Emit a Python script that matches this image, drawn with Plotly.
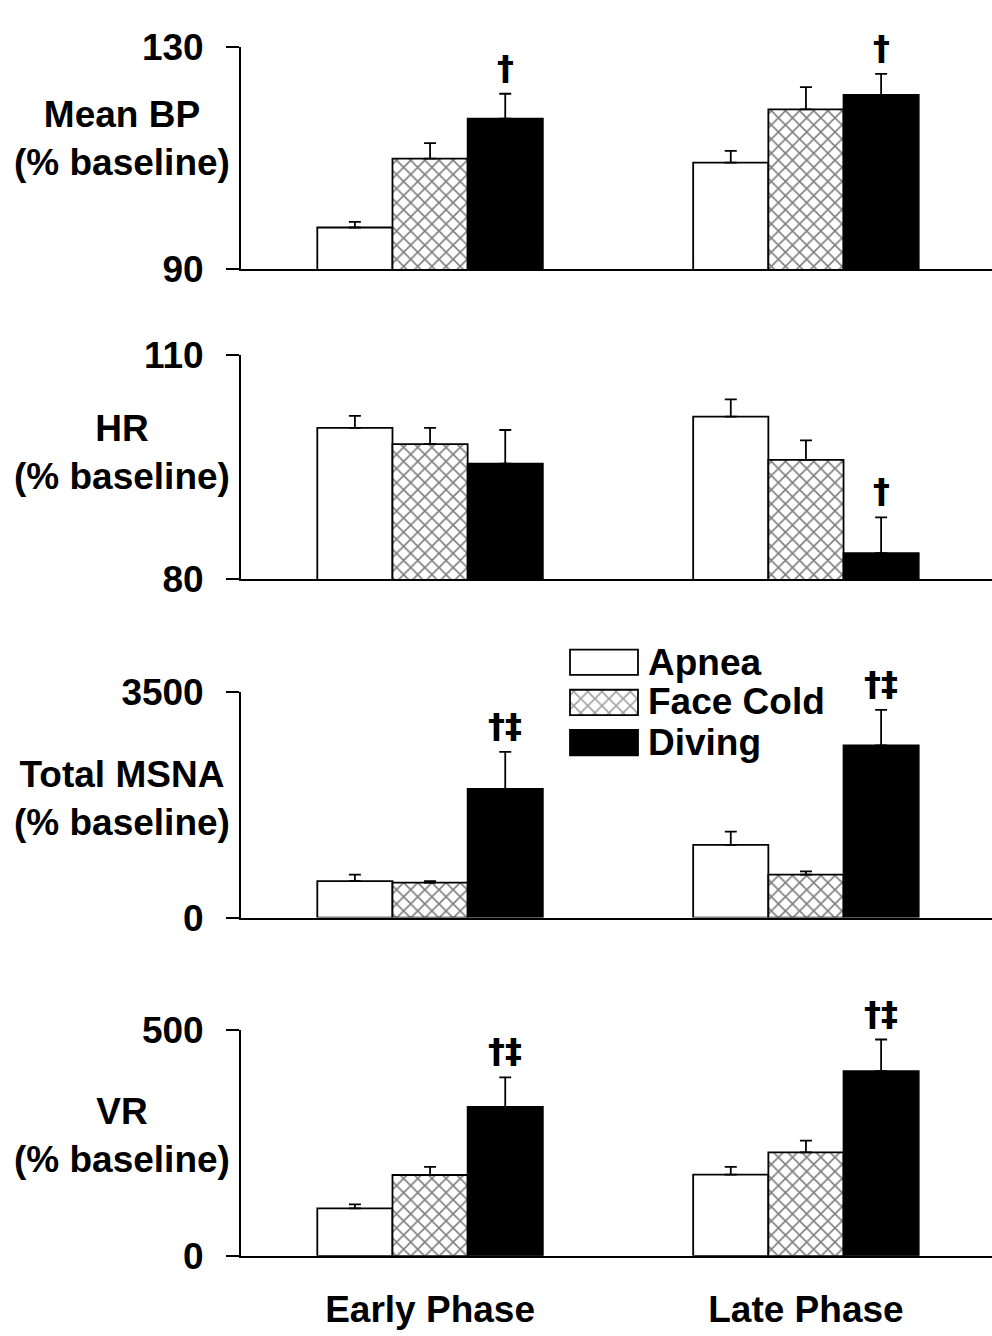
import plotly.graph_objects as go

# ---------------- data ----------------
phases = ["Early Phase", "Late Phase"]
series = ["Apnea", "Face Cold", "Diving"]

# rows: Apnea, Face Cold, Diving ; columns: Early, Late
bp_values = [[97.5, 109.2], [109.9, 118.8], [117.1, 121.4]]
bp_errors = [[1.0, 2.1], [2.8, 4.0], [4.5, 3.8]]
bp_sig = ["†", "†"]

hr_values = [[100.3, 101.8], [98.1, 96.0], [95.5, 83.5]]
hr_errors = [[1.6, 2.3], [2.2, 2.6], [4.5, 4.8]]
hr_sig = ["", "†"]

msna_values = [[566, 1127], [541, 666], [1993, 2669]]
msna_errors = [[100, 205], [25, 50], [575, 550]]
msna_sig = ["†‡", "†‡"]

vr_values = [[105, 180], [179, 229], [330, 409]]
vr_errors = [[9, 17], [18, 26], [65, 70]]
vr_sig = ["†‡", "†‡"]

bp_range = [90, 130]
hr_range = [80, 110]
msna_range = [0, 3500]
vr_range = [0, 500]

bp_title = "Mean BP<br>(% baseline)"
hr_title = "HR<br>(% baseline)"
msna_title = "Total MSNA<br>(% baseline)"
vr_title = "VR<br>(% baseline)"

# ---------------- styling / layout ----------------
W, H = 992, 1336
FONT = "Liberation Sans, Arial, sans-serif"
SYM_FONT = "DejaVu Sans, Liberation Sans, sans-serif"
FS = 37


def fx(p):
    return p / W


def fy(p):
    return 1 - p / H


panels = [
    dict(v=bp_values, e=bp_errors, sig=bp_sig, rng=bp_range, title=bp_title, top=28, bot=257, ty=122),
    dict(v=hr_values, e=hr_errors, sig=hr_sig, rng=hr_range, title=hr_title, top=346, bot=577, ty=446),
    dict(v=msna_values, e=msna_errors, sig=msna_sig, rng=msna_range, title=msna_title, top=693, bot=926, ty=803),
    dict(v=vr_values, e=vr_errors, sig=vr_sig, rng=vr_range, title=vr_title, top=1042, bot=1275, ty=1151),
]

fill_colors = ["white", "white", "black"]
patterns = ["", "x", ""]
PAT = dict(fgcolor="black", bgcolor="white", size=10, solidity=0.3)

BARGAP = 0.4
bar_w = (1 - BARGAP) / len(series)
xpos = list(range(len(phases)))

fig = go.Figure()
annotations = []
layout_axes = {}

for k, p in enumerate(panels):
    idx = "" if k == 0 else str(k + 1)
    xa, ya = "x" + idx, "y" + idx
    for s, name in enumerate(series):
        fig.add_trace(go.Bar(
            x=xpos, y=p["v"][s], name=name, xaxis=xa, yaxis=ya,
            marker=dict(
                color=fill_colors[s],
                line=dict(color="black", width=1.8),
                pattern=dict(shape=patterns[s], **PAT),
            ),
            error_y=dict(type="data", symmetric=False, array=p["e"][s],
                         arrayminus=[0] * len(phases), color="black",
                         thickness=1.8, width=6),
            showlegend=False,
        ))
    # significance marks above the Diving bars
    for i, mark in enumerate(p["sig"]):
        if mark:
            annotations.append(dict(
                x=xpos[i] + bar_w, y=p["v"][2][i] + p["e"][2][i],
                xref=xa, yref=ya, text=mark, showarrow=False,
                yanchor="middle", yshift=26,
                font=dict(family=SYM_FONT, size=34, color="black", weight="bold"),
            ))
    # axis title as annotation
    annotations.append(dict(
        x=fx(122), y=fy(p["ty"]), xref="paper", yref="paper",
        text=p["title"], showarrow=False, xanchor="center", yanchor="middle",
        font=dict(family=FONT, size=FS, color="black", weight="bold"),
    ))
    last = (k == len(panels) - 1)
    layout_axes["xaxis" + idx] = dict(
        domain=[fx(241), 1], range=[-0.503, 1.495], anchor=ya,
        showline=True, linecolor="black", linewidth=1.8,
        showgrid=False, zeroline=False, ticks="",
        tickvals=xpos, ticktext=phases, showticklabels=last,
        ticklabelstandoff=20,
        tickfont=dict(family=FONT, size=FS, color="black", weight="bold"),
    )
    layout_axes["yaxis" + idx] = dict(
        domain=[fy(p["bot"]), fy(p["top"])], range=p["rng"], anchor=xa,
        showline=True, linecolor="black", linewidth=1.8,
        showgrid=False, zeroline=False,
        ticks="outside", ticklen=13, tickwidth=1.8, tickcolor="black",
        tickvals=p["rng"], ticklabelstandoff=15,
        tickfont=dict(family=FONT, size=FS, color="black", weight="bold"),
    )

# ---------------- legend (drawn as its own small key) ----------------
legend_len = [1] * len(series)
fig.add_trace(go.Bar(
    y=list(range(len(series))), x=legend_len, orientation="h", width=0.63,
    xaxis="x5", yaxis="y5", showlegend=False, hoverinfo="skip",
    marker=dict(
        color=fill_colors, line=dict(color="black", width=1.8),
        pattern=dict(shape=patterns, **PAT),
    ),
))
layout_axes["xaxis5"] = dict(domain=[fx(566.6), fx(641.4)], range=[-0.05, 1.05],
                             visible=False, anchor="y5", fixedrange=True)
layout_axes["yaxis5"] = dict(domain=[fy(766.3), fy(641.8)], range=[2.5, -0.5],
                             visible=False, anchor="x5", fixedrange=True)
legend_y = [662.5, 703.5, 745.5]
for s, name in enumerate(series):
    annotations.append(dict(
        x=fx(646), y=fy(legend_y[s]), xref="paper", yref="paper",
        text=name, showarrow=False, xanchor="left", yanchor="middle",
        font=dict(family=FONT, size=FS, color="black", weight="bold"),
    ))

fig.update_layout(
    width=W, height=H,
    margin=dict(l=0, r=0, t=0, b=0),
    paper_bgcolor="white", plot_bgcolor="white",
    barmode="group", bargap=BARGAP, bargroupgap=0,
    showlegend=False,
    annotations=annotations,
    font=dict(family=FONT, color="black"),
    **layout_axes,
)

fig.write_html("out.html")
